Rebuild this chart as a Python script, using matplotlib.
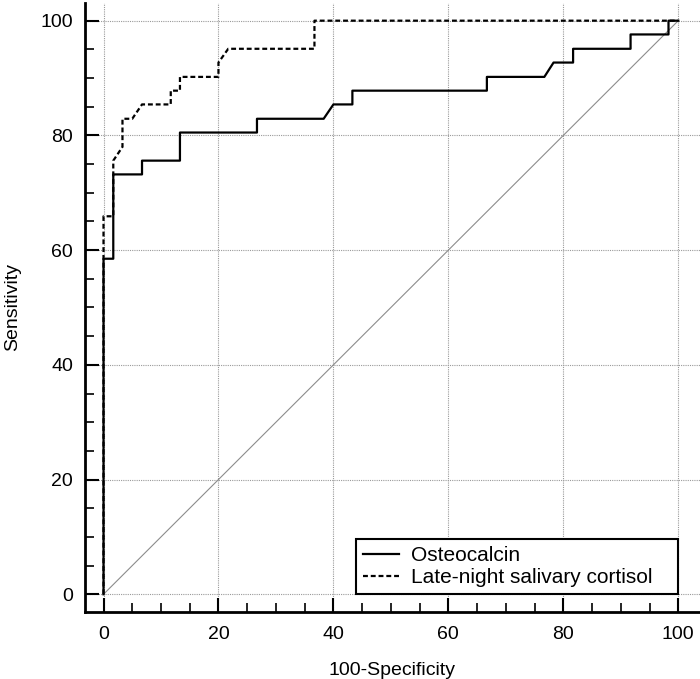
import matplotlib.pyplot as plt
from matplotlib.ticker import MultipleLocator

plt.rcParams['font.family'] = ['Liberation Sans', 'DejaVu Sans']

# ROC points (100-Specificity, Sensitivity)
osteo_x = [0, 0, 1.7, 1.7, 6.7, 6.7, 13.3, 13.3, 26.7, 26.7, 38.3, 40.0, 43.3, 43.3,
           66.7, 66.7, 76.7, 78.3, 81.7, 81.7, 91.7, 91.7, 98.3, 98.3, 100]
osteo_y = [0, 58.5, 58.5, 73.2, 73.2, 75.6, 75.6, 80.5, 80.5, 82.9, 82.9, 85.4, 85.4, 87.8,
           87.8, 90.2, 90.2, 92.7, 92.7, 95.1, 95.1, 97.6, 97.6, 100, 100]

cort_x = [0, 0, 1.7, 1.7, 3.3, 3.3, 5.0, 6.7, 11.7, 11.7, 13.3, 13.3, 20.0, 20.0,
          21.7, 36.7, 36.7, 100]
cort_y = [0, 65.9, 65.9, 75.6, 78.0, 82.9, 82.9, 85.4, 85.4, 87.8, 87.8, 90.2, 90.2, 92.7,
          95.1, 95.1, 100, 100]

ref_line = [0, 100]
labels = ['Osteocalcin', 'Late-night salivary cortisol']

fig = plt.figure(figsize=(7, 6.79), dpi=100)
ax = fig.add_axes([85/700, 67/679, 615/700, 609.5/679])

ax.plot(ref_line, ref_line, color='#8c8c8c', lw=0.8, zorder=2)
ax.plot(osteo_x, osteo_y, color='black', lw=1.6, zorder=3, label=labels[0])
ax.plot(cort_x, cort_y, color='black', lw=1.6, ls=(0, (2.2, 1.3)), zorder=4, label=labels[1])

ax.set_xlim(-3.22, 103.78)
ax.set_ylim(-3.09, 103.17)

ax.xaxis.set_major_locator(MultipleLocator(20))
ax.yaxis.set_major_locator(MultipleLocator(20))
ax.xaxis.set_minor_locator(MultipleLocator(5))
ax.yaxis.set_minor_locator(MultipleLocator(5))

ax.grid(True, which='major', color='#9a9a9a', lw=0.8, ls=(0, (1, 1)), zorder=1)

for s in ['top', 'right']:
    ax.spines[s].set_visible(False)
for s in ['left', 'bottom']:
    ax.spines[s].set_linewidth(2.0)

ax.tick_params(which='major', direction='in', length=10, width=1.5, labelsize=14)
ax.tick_params(which='minor', direction='in', length=6.5, width=1.2)
ax.tick_params(axis='y', which='major', pad=8.5)
ax.tick_params(axis='x', which='major', pad=10)

ax.set_xlabel('100-Specificity', fontsize=14, labelpad=14)
ax.set_ylabel('Sensitivity', fontsize=14, labelpad=14)

leg = ax.legend(loc='lower left', bbox_to_anchor=(43.9, 0, 56.1, 10.3),
                bbox_transform=ax.transData, mode='expand',
                borderaxespad=0, fancybox=False, edgecolor='black', framealpha=1,
                fontsize=15, handlelength=1.7, handletextpad=0.6, labelspacing=0.15,
                borderpad=0.35)
leg.get_frame().set_linewidth(1.5)

fig.savefig('out.png', dpi=100)
